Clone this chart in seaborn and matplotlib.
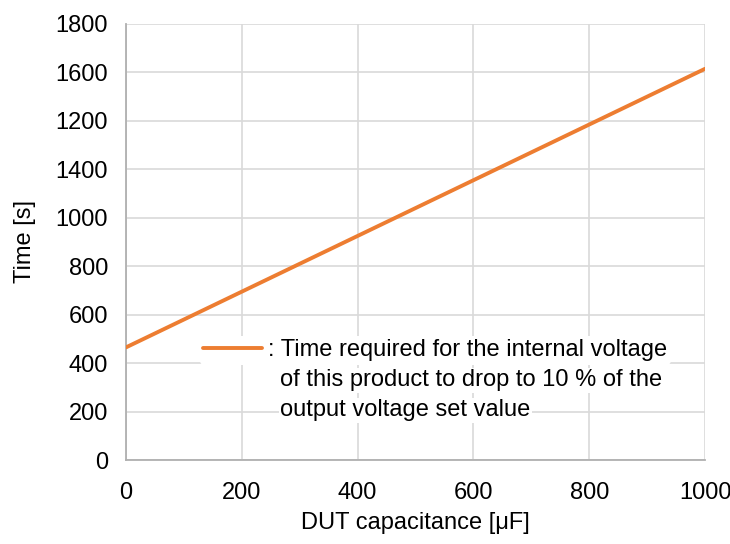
import pandas as pd
import matplotlib
matplotlib.use("Agg")
import matplotlib.pyplot as plt
import seaborn as sns

# Valores
capacitancia = [0, 200, 400, 600, 800, 1000]
tempo = [465, 695, 925, 1155, 1385, 1615]
ticks_y = [0, 200, 400, 600, 800, 1000, 1200, 1400, 1600, 1800]
rotulos_y = ["0", "200", "400", "600", "800", "1000", "1400", "1200", "1600", "1800"]
ticks_x = [0, 200, 400, 600, 800, 1000]
legenda = [": Time required for the internal voltage",
           "of this product to drop to 10 % of the",
           "output voltage set value"]

sns.set_theme(style="white")
plt.rcParams['font.family'] = ['Liberation Sans', 'DejaVu Sans']
plt.rcParams.update({
    'text.color': 'black',
    'axes.labelcolor': 'black',
    'xtick.color': 'black',
    'ytick.color': 'black',
})
fs = 17

df = pd.DataFrame({"cap": capacitancia, "tempo": tempo})

fig = plt.figure(figsize=(7.30, 5.44), dpi=100)
ax = fig.add_axes([0.1726, 0.1544, 0.7932, 0.8015])

sns.lineplot(x="cap", y="tempo", data=df, color="#ED7D31", linewidth=2.8,
             label=legenda[0], ax=ax, zorder=3)

ax.set_xlim(0, 1000)
ax.set_ylim(0, 1800)
ax.set_xticks(ticks_x)
ax.set_yticks(ticks_y)
ax.set_yticklabels(rotulos_y)
ax.tick_params(axis="both", labelsize=fs, length=0)
ax.tick_params(axis="x", pad=15.5)
ax.tick_params(axis="y", pad=13)
ax.grid(True, color="#d9d9d9", linewidth=1.2)
ax.set_axisbelow(True)

for lado in ["top", "right"]:
    ax.spines[lado].set_visible(False)
for lado in ["left", "bottom"]:
    ax.spines[lado].set_color("#b0b0b0")
    ax.spines[lado].set_linewidth(1.3)

ax.set_xlabel("DUT capacitance [μF]", fontsize=fs, labelpad=6)
ax.set_ylabel("Time [s]", fontsize=fs, labelpad=14)

leg = ax.legend(loc="center left", bbox_to_anchor=(0.127, 0.252), fontsize=fs,
                frameon=True, handlelength=2.5, handletextpad=0.25,
                borderpad=0.15, borderaxespad=0)
leg.get_frame().set_facecolor("white")
leg.get_frame().set_edgecolor("none")
leg.get_frame().set_alpha(1)

for i, linha in enumerate(legenda[1:]):
    ax.text(0.266, 0.183 - i * 0.0688, linha, transform=ax.transAxes,
            fontsize=fs, va="center", ha="left",
            bbox=dict(facecolor="white", edgecolor="none", pad=1))

plt.savefig("out.png", dpi=100)
plt.close()
